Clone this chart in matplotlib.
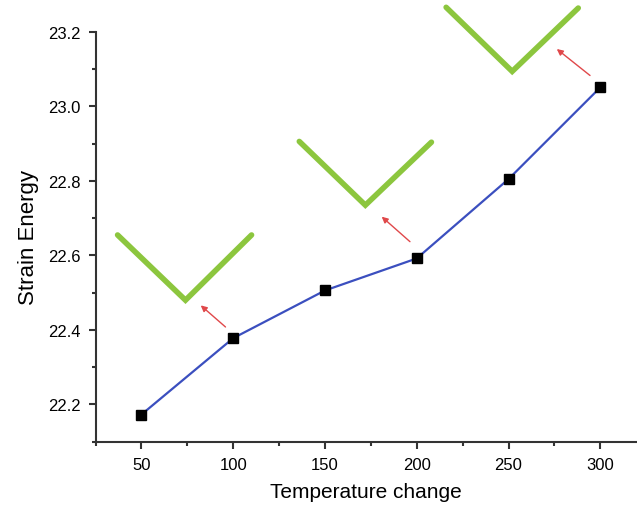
import matplotlib
matplotlib.use("Agg")
import matplotlib.pyplot as plt
from matplotlib.ticker import MultipleLocator

plt.rcParams['font.family'] = ['Liberation Sans', 'DejaVu Sans']

# data
temperature = [50, 100, 150, 200, 250, 300]
strain_energy = [22.173, 22.378, 22.506, 22.592, 22.805, 23.051]

# decorative "V" marks (data coords)
v_marks_x = [[37, 74, 110], [136, 172, 208], [216, 252, 288]]
v_marks_y = [[22.655, 22.48, 22.655], [22.906, 22.735, 22.904], [23.266, 23.094, 23.264]]

# red arrows: tail -> head (data coords)
arrow_tails = [(95.8, 22.408), (196.3, 22.637), (294.4, 23.083)]
arrow_heads = [(82.3, 22.466), (180.9, 22.704), (276.3, 23.154)]

fig = plt.figure(figsize=(6.37, 5.06), dpi=100)
ax = fig.add_axes([0.150, 0.125, 0.85, 0.81])

ax.plot(temperature, strain_energy, color='#3b4fbf', lw=1.6, marker='s',
        markersize=6.5, markerfacecolor='black', markeredgecolor='black', zorder=3)

for xs, ys in zip(v_marks_x, v_marks_y):
    ax.plot(xs, ys, color='#8cc63e', lw=4, solid_capstyle='round',
            solid_joinstyle='miter', clip_on=False)

for (tx, ty), (hx, hy) in zip(arrow_tails, arrow_heads):
    ax.annotate('', xy=(hx, hy), xytext=(tx, ty), annotation_clip=False,
                arrowprops=dict(arrowstyle='-|>', color='#e0484a', lw=1.0,
                                mutation_scale=9, shrinkA=0, shrinkB=0))

ax.set_xlim(25, 320)
ax.set_ylim(22.1, 23.2)
ax.set_xticks(temperature)
ax.set_yticks([22.2, 22.4, 22.6, 22.8, 23.0, 23.2])
ax.yaxis.set_major_formatter(plt.FormatStrFormatter('%.1f'))
ax.xaxis.set_minor_locator(MultipleLocator(25))
ax.yaxis.set_minor_locator(MultipleLocator(0.1))

for side in ['top', 'right']:
    ax.spines[side].set_visible(False)
for side in ['left', 'bottom']:
    ax.spines[side].set_linewidth(1.5)
    ax.spines[side].set_color('#333333')

ax.tick_params(which='major', direction='out', length=5, width=1.5,
               color='#333333', labelsize=12, pad=6)
ax.tick_params(which='minor', direction='out', length=3, width=1.5, color='#333333')

ax.set_xlabel('Temperature change', fontsize=15, labelpad=7)
ax.set_ylabel('Strain Energy', fontsize=16, labelpad=6)

fig.savefig('out.png', dpi=100)
